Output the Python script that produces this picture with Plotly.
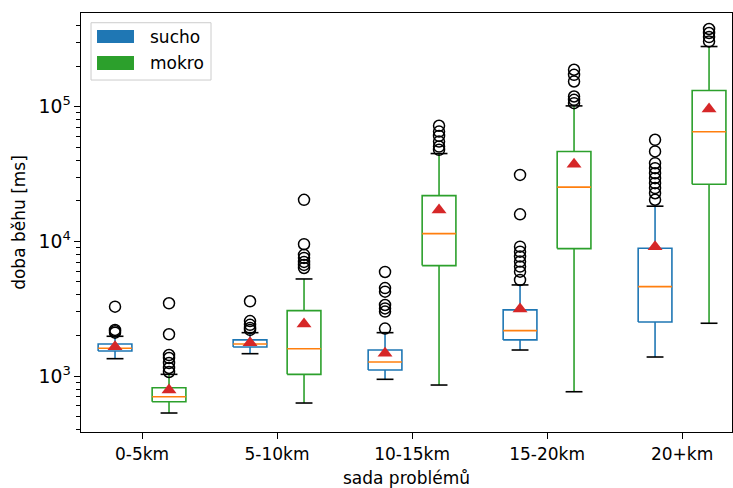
import plotly.graph_objects as go

categories = ["0-5km", "5-10km", "10-15km", "15-20km", "20+km"]

sucho_q1 = [1534, 1644, 1108, 1854, 2520]
sucho_med = [1607, 1730, 1271, 2173, 4615]
sucho_q3 = [1729, 1854, 1560, 3098, 8890]
sucho_lo = [1345, 1465, 945, 1560, 1384]
sucho_hi = [1973, 2099, 2099, 4750, 18270]
sucho_mean = [1652, 1770, 1475, 3150, 9140]
sucho_out = [
    [3275, 2200, 2150, 2100],
    [3590, 2560, 2400, 2275, 2200],
    [5930, 4500, 4230, 3370, 3180, 3010, 2250],
    [31200, 15900, 9140, 8390, 7710, 7080, 6500, 5960, 5170],
    [56900, 46600, 38100, 35000, 32100, 29500, 27100, 24900, 22800, 20400],
]

mokro_q1 = [644, 1029, 6610, 8840, 26600]
mokro_med = [701, 1596, 11430, 25300, 65200]
mokro_q3 = [819, 3059, 21900, 46600, 132100]
mokro_lo = [531, 630, 857, 764, 2466]
mokro_hi = [1029, 5260, 44960, 101600, 280500]
mokro_mean = [787, 2437, 17140, 37500, 96200]
mokro_out = [
    [3470, 2042, 1432, 1361, 1249, 1147, 1071],
    [20370, 9530, 7945, 7540, 7040, 6690, 6350],
    [72300, 65500, 60800, 55200, 50700, 47900],
    [188500, 172900, 154300, 119300, 112700, 106500],
    [378600, 353500, 329800, 306000],
]

series = [
    ("sucho", "#1f77b4", -0.2, sucho_q1, sucho_med, sucho_q3, sucho_lo, sucho_hi, sucho_mean, sucho_out),
    ("mokro", "#2ca02c", 0.2, mokro_q1, mokro_med, mokro_q3, mokro_lo, mokro_hi, mokro_mean, mokro_out),
]

W = 0.25
LW = 1.6
FONT = dict(family="DejaVu Sans", size=17, color="black")

fig = go.Figure()

for name, color, off, q1, med, q3, lo, hi, mean, outs in series:
    bx, by, wx, wy, cx, cy, mx, my = [], [], [], [], [], [], [], []
    ox, oy, ax, ay = [], [], [], []
    for i in range(len(categories)):
        p = i + off
        bx += [p - W / 2, p + W / 2, p + W / 2, p - W / 2, p - W / 2, None]
        by += [q1[i], q1[i], q3[i], q3[i], q1[i], None]
        wx += [p, p, None, p, p, None]
        wy += [q1[i], lo[i], None, q3[i], hi[i], None]
        cx += [p - W / 4, p + W / 4, None, p - W / 4, p + W / 4, None]
        cy += [lo[i], lo[i], None, hi[i], hi[i], None]
        mx += [p - W / 2, p + W / 2, None]
        my += [med[i], med[i], None]
        ax.append(p)
        ay.append(mean[i])
        for v in outs[i]:
            ox.append(p)
            oy.append(v)
    fig.add_trace(go.Scatter(x=wx, y=wy, mode="lines", line=dict(color=color, width=LW),
                             showlegend=False, hoverinfo="skip"))
    fig.add_trace(go.Scatter(x=bx, y=by, mode="lines", line=dict(color=color, width=LW),
                             showlegend=False, name=name))
    fig.add_trace(go.Scatter(x=cx, y=cy, mode="lines", line=dict(color="black", width=LW),
                             showlegend=False, hoverinfo="skip"))
    fig.add_trace(go.Scatter(x=mx, y=my, mode="lines", line=dict(color="#ff7f0e", width=LW),
                             showlegend=False, hoverinfo="skip"))
    fig.add_trace(go.Scatter(x=ox, y=oy, mode="markers",
                             marker=dict(symbol="circle-open", size=11, color="black",
                                         line=dict(width=1.5, color="black")),
                             showlegend=False))
    fig.add_trace(go.Scatter(x=ax, y=ay, mode="markers",
                             marker=dict(symbol="triangle-up", size=13, color="#d62728"),
                             showlegend=False))

# legend drawn as shapes + text
shapes = [
    dict(type="rect", xref="paper", yref="paper", x0=0.0154, x1=0.1997, y0=0.840, y1=0.9768,
         line=dict(color="#cccccc", width=1), fillcolor="rgba(255,255,255,0.8)", layer="above"),
    dict(type="rect", xref="paper", yref="paper", x0=0.0246, x1=0.0814, y0=0.9284, y1=0.9594,
         line=dict(width=0), fillcolor="#1f77b4", layer="above"),
    dict(type="rect", xref="paper", yref="paper", x0=0.0246, x1=0.0814, y0=0.864, y1=0.8974,
         line=dict(width=0), fillcolor="#2ca02c", layer="above"),
]
annotations = [
    dict(text="sucho", xref="paper", yref="paper", x=0.1029, y=0.9427, xanchor="left",
         yanchor="middle", showarrow=False, font=FONT),
    dict(text="mokro", xref="paper", yref="paper", x=0.1029, y=0.8807, xanchor="left",
         yanchor="middle", showarrow=False, font=FONT),
]

fig.update_layout(
    width=733, height=488,
    margin=dict(l=81, r=1, t=13, b=56),
    plot_bgcolor="white", paper_bgcolor="white",
    font=FONT,
    showlegend=False,
    shapes=shapes,
    annotations=annotations,
    xaxis=dict(
        range=[-0.452, 4.37], tickmode="array", tickvals=list(range(len(categories))),
        ticktext=categories, showline=True, mirror=True, linecolor="black", linewidth=1.4,
        ticks="outside", ticklen=6, tickwidth=1.4, tickcolor="black", showgrid=False,
        zeroline=False, title=dict(text="sada problémů", font=FONT, standoff=10),
    ),
    yaxis=dict(
        type="log", range=[2.584, 5.697], dtick=1, exponentformat="power",
        tickfont=dict(family="DejaVu Sans", size=15, color="black"),
        showline=True, mirror=True, linecolor="black", linewidth=1.4,
        ticks="outside", ticklen=6, tickwidth=1.4, tickcolor="black", showgrid=False,
        zeroline=False, title=dict(text="doba běhu [ms]", font=FONT, standoff=8),
        minor=dict(ticks="outside", ticklen=3.5, tickwidth=1, tickcolor="black", showgrid=False),
    ),
)

fig.write_html("out.html")
